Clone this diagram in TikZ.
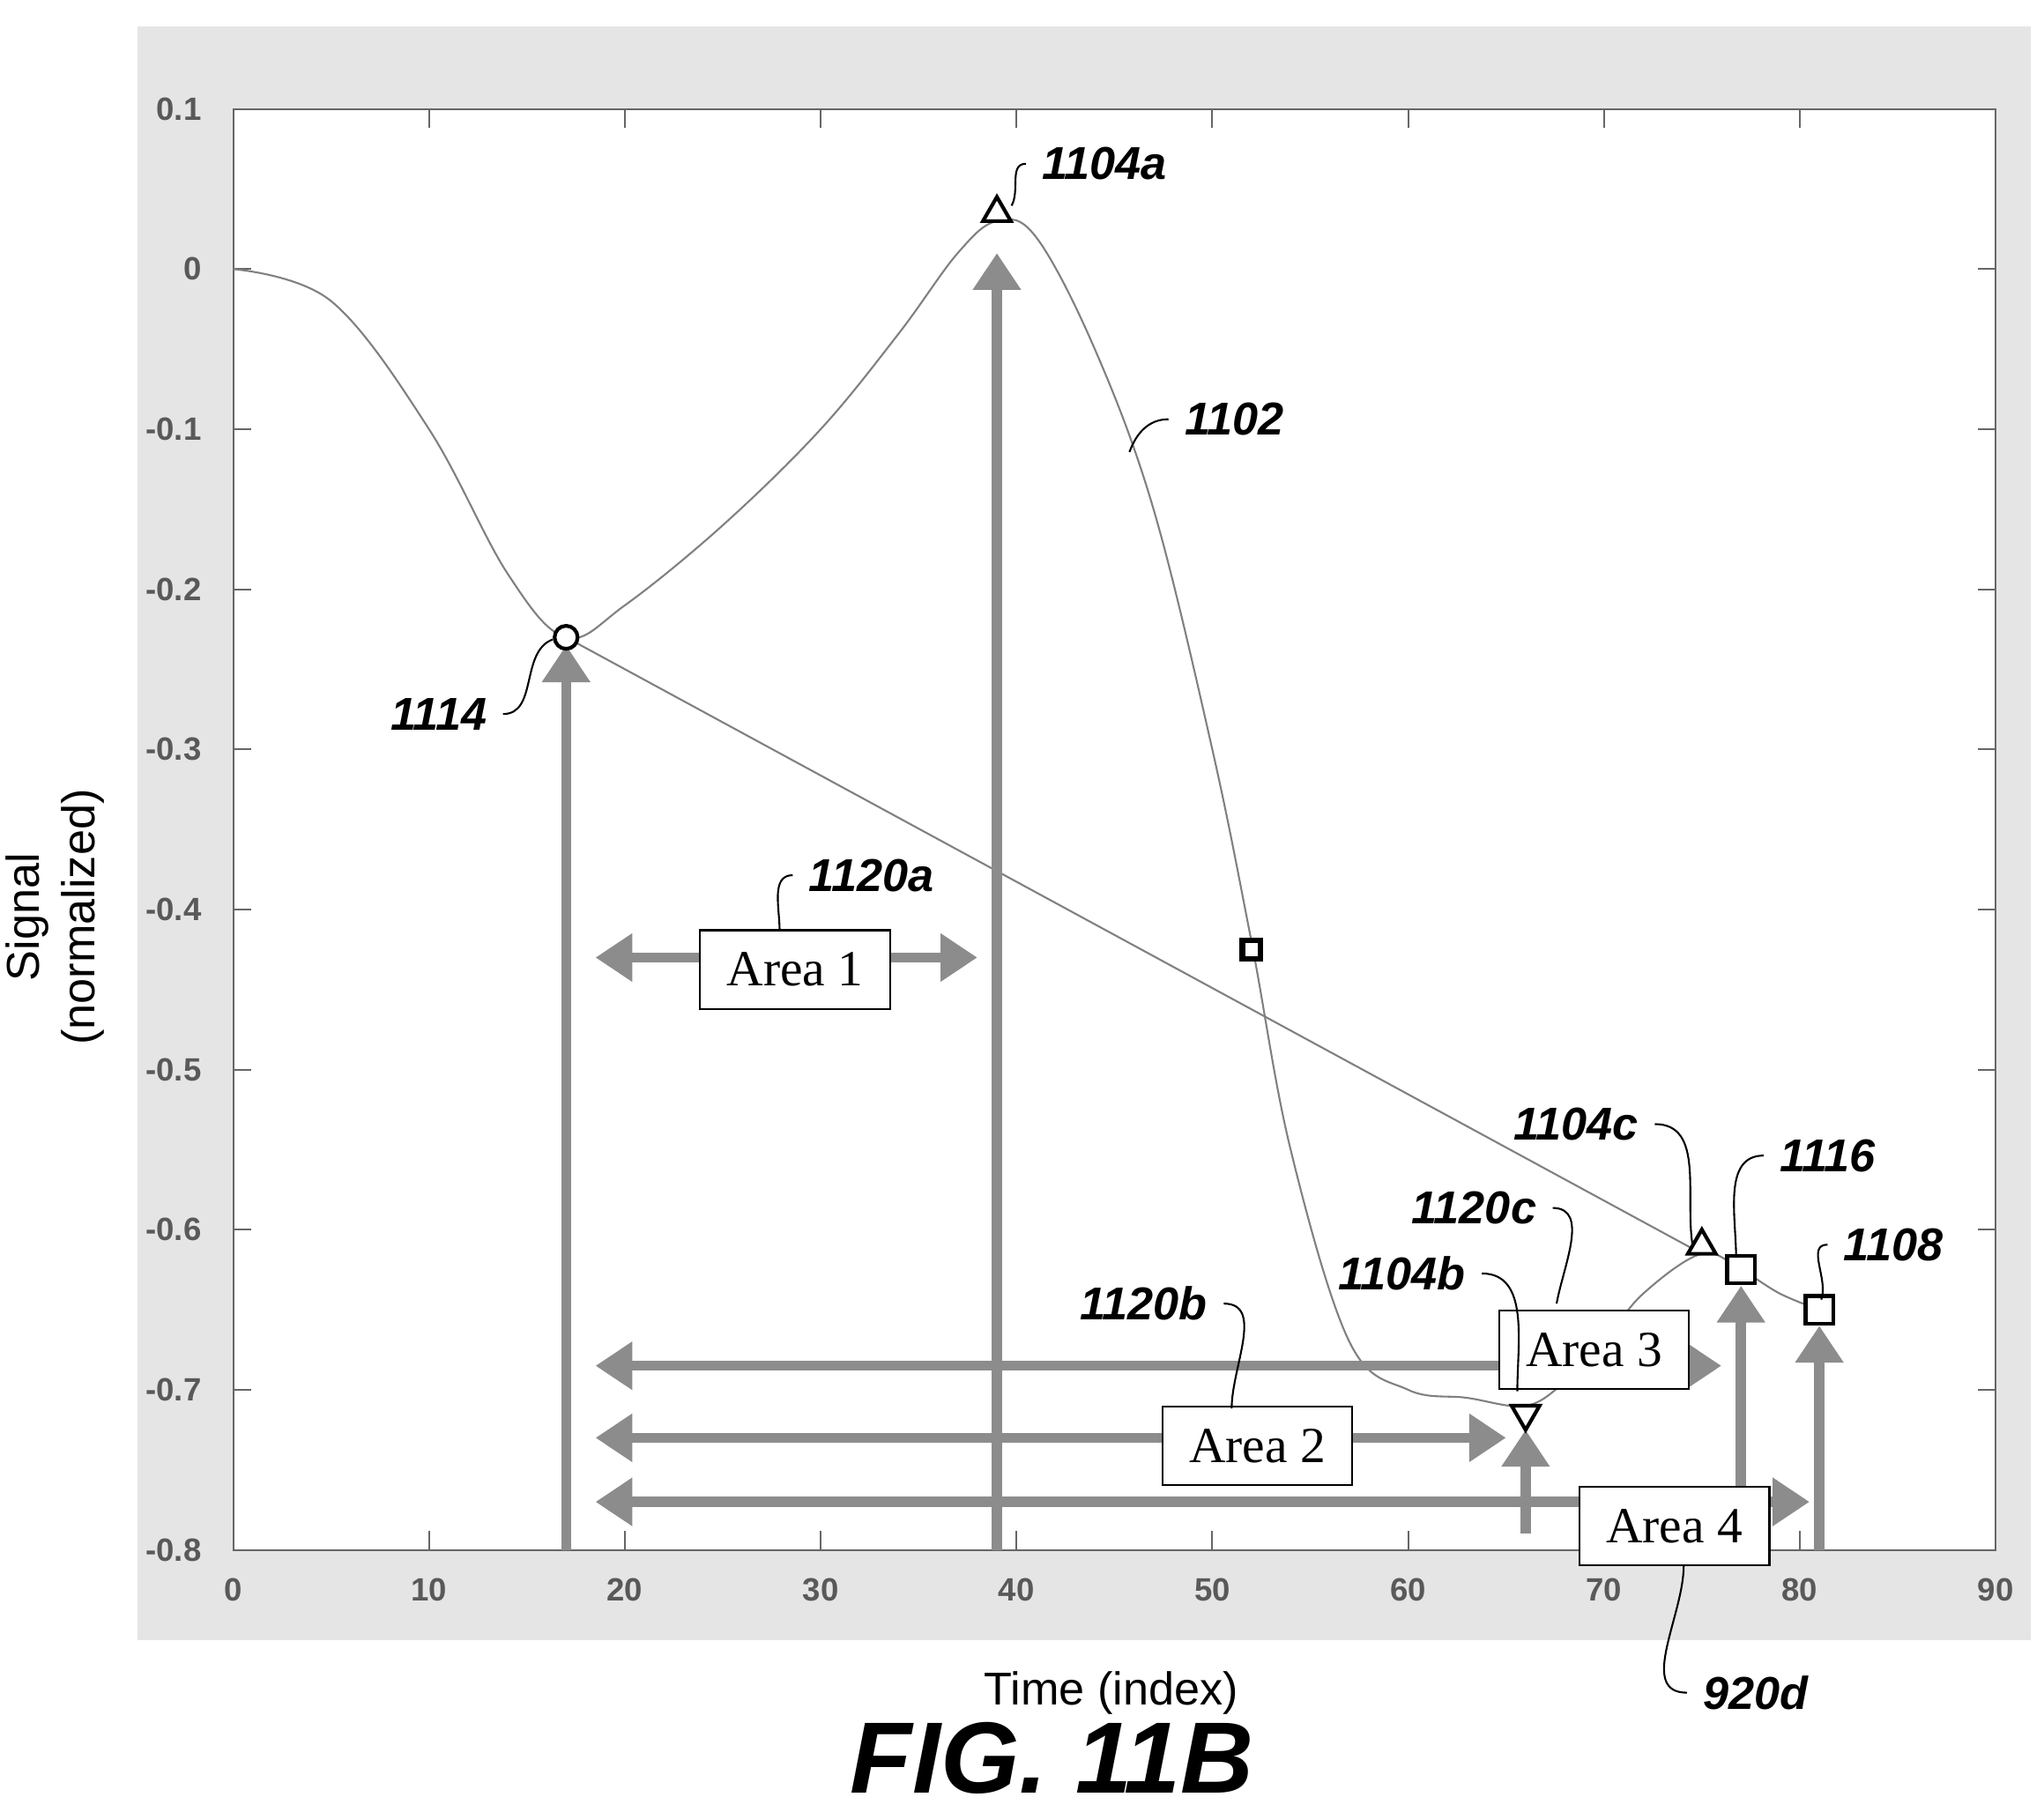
\documentclass[tikz,border=0pt]{standalone}
\usepackage{fontspec}
\setmainfont{Liberation Serif}
\setsansfont{Liberation Sans}
\usetikzlibrary{arrows.meta,positioning,shapes.geometric}
\definecolor{bgdot}{gray}{0.90}
\definecolor{arrowgray}{gray}{0.55}
\begin{document}
\begin{tikzpicture}
[
>=Triangle,
tick/.style = {font=\sffamily\bfseries\fontsize{7}{7}\selectfont, text=black!65},
ref/.style = {font=\sffamily\bfseries\itshape\fontsize{10}{10}\selectfont},
areabox/.style = {draw, fill=white, font=\fontsize{11}{11}\selectfont, minimum width=1.45cm, minimum height=0.6cm},
bigarrow/.style = {arrowgray, line width=2.2pt, -{Triangle[length=8pt,width=10pt]}},
dblarrow/.style = {arrowgray, line width=2.2pt, {Triangle[length=8pt,width=10pt]}-{Triangle[length=8pt,width=10pt]}},
lead/.style = {black, thin},
mk/.style = {draw, fill=white, inner sep=0pt, thick},
]
\useasboundingbox (0,0) rectangle (15.6,-13.824);
\fill[bgdot] (1.05,-0.2) rectangle (15.5,-12.52);
\fill[white] (1.78,-0.83) rectangle (15.23,-11.83);

\begin{scope}[shift={(1.78,-11.83)}, xscale=0.14944, yscale=12.22]
\draw[black!60] (0,0) rectangle (90,0.9);
% ticks and labels
\foreach \x in {0,10,...,90} {
  \draw[black!60] (\x,0) -- (\x,0.012) (\x,0.9) -- (\x,0.888);
  \node[tick] at (\x,-0.025) {\x};
}
\foreach \v/\t in {0/-0.8,1/-0.7,2/-0.6,3/-0.5,4/-0.4,5/-0.3,6/-0.2,7/-0.1,8/0,9/0.1} {
  \draw[black!60] (0,\v/10) -- (0.9,\v/10) (90,\v/10) -- (89.1,\v/10);
  \node[tick, anchor=east] at (-0.8,\v/10) {\t};
}
% curve 1102
\draw[black!50, thin] plot[smooth, tension=0.6] coordinates {
 (0,0.8) (5,0.78) (10,0.7) (14,0.61) (17,0.57) (20,0.59) (25,0.64) (30,0.7)
 (34,0.76) (37,0.81) (39,0.83) (41,0.82) (44,0.75) (47,0.65) (50,0.5) (52,0.38)
 (54,0.25) (57,0.13) (60,0.1) (63,0.095) (66,0.09) (68,0.105) (70,0.13)
 (72,0.16) (75,0.185) (77,0.175) (79,0.16) (81,0.15)};
\draw[black!50, thin] (17,0.57) -- (75,0.185);
% vertical arrows
\draw[bigarrow] (17,0) -- (17,0.565);
\draw[bigarrow] (39,0) -- (39,0.81);
\draw[bigarrow] (66,0.01) -- (66,0.075);
\draw[bigarrow] (77,0) -- (77,0.165);
\draw[bigarrow] (81,0) -- (81,0.14);
% horizontal arrows
\draw[dblarrow] (18.5,0.37) -- (38,0.37);
\draw[dblarrow] (18.5,0.115) -- (76,0.115);
\draw[dblarrow] (18.5,0.07) -- (65,0.07);
\draw[dblarrow] (18.5,0.03) -- (80.5,0.03);
% markers
\node[mk, circle, minimum size=5pt] (p1114) at (17,0.57) {};
\node[mk, regular polygon, regular polygon sides=3, minimum size=7pt] (p1104a) at (39,0.835) {};
\node[mk, rectangle, minimum size=4pt, very thick] (pmid) at (52,0.375) {};
\node[mk, regular polygon, regular polygon sides=3, shape border rotate=180, minimum size=7pt] (p1104b) at (66,0.085) {};
\node[mk, regular polygon, regular polygon sides=3, minimum size=7pt] (p1104c) at (75,0.19) {};
\node[mk, rectangle, minimum size=6pt] (p1116) at (77,0.175) {};
\node[mk, rectangle, minimum size=6pt] (p1108) at (81,0.15) {};
% area boxes
\node[areabox] (area1) at (28.7,0.3625) {Area 1};
\node[areabox] (area2) at (52.3,0.065) {Area 2};
\node[areabox] (area3) at (69.5,0.125) {Area 3};
\node[areabox] (area4) at (73.6,0.015) {Area 4};
\end{scope}

% reference labels
\node[ref] (l1104a) at (8.43,-1.25) {1104a};
\node[ref] (l1102) at (9.42,-3.2) {1102};
\node[ref] (l1114) at (3.35,-5.45) {1114};
\node[ref] (l1120a) at (6.65,-6.68) {1120a};
\node[ref] (l1104c) at (12.03,-8.58) {1104c};
\node[ref] (l1116) at (13.95,-8.82) {1116};
\node[ref] (l1120c) at (11.25,-9.22) {1120c};
\node[ref] (l1108) at (14.45,-9.5) {1108};
\node[ref] (l1104b) at (10.7,-9.72) {1104b};
\node[ref] (l1120b) at (8.73,-9.95) {1120b};
\node[ref] (l920d) at (13.4,-12.92) {920d};
% leaders
\draw[lead] (l1104a.west) to[out=180,in=60] (7.72,-1.57);
\draw[lead] (l1102.west) to[out=180,in=70] (8.62,-3.45);
\draw[lead] (l1114.east) to[out=0,in=200] (4.22,-4.88);
\draw[lead] (l1120a.west) to[out=180,in=90] (5.95,-7.1);
\draw[lead] (l1104c.east) to[out=0,in=100] (12.92,-9.52);
\draw[lead] (l1116.west) to[out=180,in=90] (13.25,-9.6);
\draw[lead] (l1120c.east) to[out=0,in=80] (11.88,-9.95);
\draw[lead] (l1108.west) to[out=180,in=70] (13.9,-9.92);
\draw[lead] (l1104b.east) to[out=0,in=90] (11.58,-10.62);
\draw[lead] (l1120b.east) to[out=0,in=90] (9.4,-10.75);
\draw[lead] (l920d.west) to[out=180,in=270] (12.85,-11.95);

% axis titles
\node[font=\sffamily\fontsize{10}{12}\selectfont, rotate=90, align=center] (ylab) at (0.42,-7.0) {Signal\\(normalized)};
\node[font=\sffamily\fontsize{10}{10}\selectfont] (xlab) at (8.48,-12.92) {Time (index)};
\node[font=\sffamily\bfseries\itshape\fontsize{22}{22}\selectfont] (fig) at (8.03,-13.42) {FIG. 11B};
\end{tikzpicture}
\end{document}
